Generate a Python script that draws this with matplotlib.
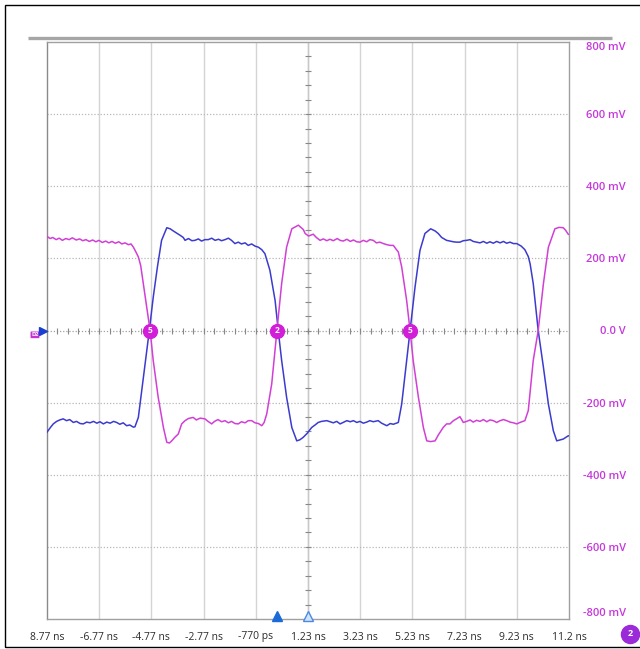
import numpy as np
import matplotlib.pyplot as plt
from matplotlib.patches import Rectangle
from matplotlib.lines import Line2D
from matplotlib.transforms import blended_transform_factory

plt.rcParams['font.family'] = ['Open Sans', 'DejaVu Sans']

# channel 2 (magenta) trace, time in ns, level in mV
t_ch2 = [-8.77, -8.65, -8.55, -8.42, -8.30, -8.18, -8.05, -7.92, -7.80, -7.65,
         -7.52, -7.40, -7.28, -7.15, -7.02, -6.90, -6.78, -6.65, -6.52, -6.40,
         -6.28, -6.15, -6.02, -5.90, -5.78, -5.65, -5.55, -5.46, -5.38, -5.27,
         -5.18, -5.08, -4.93, -4.82, -4.70, -4.51, -4.31, -4.18, -4.08, -3.99,
         -3.87, -3.74, -3.61, -3.48, -3.35, -3.17, -3.05, -2.90, -2.72, -2.60,
         -2.46, -2.35, -2.22, -2.08, -1.95, -1.82, -1.70, -1.57, -1.44, -1.32,
         -1.18, -1.06, -0.93, -0.80, -0.67, -0.54, -0.45, -0.35, -0.16, 0.04,
         0.22, 0.41, 0.61, 0.86, 1.05, 1.12, 1.25, 1.43, 1.55, 1.69,
         1.82, 1.95, 2.07, 2.20, 2.35, 2.46, 2.58, 2.72, 2.85, 2.97,
         3.10, 3.22, 3.35, 3.48, 3.60, 3.73, 3.85, 3.98, 4.12, 4.25,
         4.38, 4.50, 4.60, 4.69, 4.82, 5.01, 5.14, 5.26, 5.46, 5.65,
         5.78, 5.93, 6.10, 6.22, 6.41, 6.54, 6.67, 6.80, 6.92, 7.05,
         7.18, 7.31, 7.44, 7.56, 7.69, 7.82, 7.95, 8.08, 8.20, 8.33,
         8.46, 8.59, 8.72, 8.84, 8.97, 9.10, 9.23, 9.35, 9.54, 9.67,
         9.86, 10.05, 10.25, 10.44, 10.69, 10.85, 11.01, 11.10, 11.20, 11.23]
v_ch2 = [261, 255, 258, 252, 256, 250, 255, 252, 257, 251,
         254, 249, 252, 247, 251, 246, 250, 244, 248, 243,
         247, 242, 246, 240, 243, 238, 240, 231, 220, 204,
         180, 130, 56, 0, -83, -185, -269, -310, -312, -306,
         -296, -287, -259, -250, -244, -241, -248, -243, -245, -252,
         -259, -252, -247, -253, -250, -256, -252, -258, -259, -253,
         -256, -250, -250, -256, -258, -264, -255, -231, -148, 0,
         130, 231, 282, 292, 280, 269, 262, 267, 258, 250,
         254, 249, 253, 249, 255, 250, 248, 253, 247, 251,
         246, 245, 250, 246, 252, 250, 243, 245, 241, 238,
         236, 236, 226, 218, 176, 83, 0, -83, -185, -269,
         -306, -308, -306, -290, -269, -259, -259, -250, -245, -239,
         -255, -252, -248, -254, -249, -252, -247, -253, -248, -250,
         -255, -250, -247, -250, -254, -256, -259, -255, -250, -222,
         -83, 0, 130, 231, 282, 286, 285, 278, 267, 266]

# channel 1 (blue) trace
t_ch1 = [-8.77, -8.65, -8.53, -8.40, -8.28, -8.15, -8.02, -7.90, -7.76, -7.64,
         -7.50, -7.38, -7.25, -7.12, -6.99, -6.86, -6.74, -6.61, -6.48, -6.35,
         -6.22, -6.10, -5.98, -5.85, -5.72, -5.60, -5.46, -5.40, -5.27, -5.14,
         -4.98, -4.85, -4.70, -4.54, -4.38, -4.18, -4.05, -3.93, -3.80, -3.67,
         -3.55, -3.48, -3.35, -3.22, -3.10, -2.97, -2.85, -2.72, -2.59, -2.46,
         -2.33, -2.20, -2.08, -1.95, -1.82, -1.70, -1.57, -1.44, -1.32, -1.18,
         -1.06, -0.93, -0.80, -0.67, -0.54, -0.42, -0.23, -0.03, 0.09, 0.22,
         0.41, 0.61, 0.80, 0.92, 1.05, 1.20, 1.37, 1.50, 1.62, 1.75,
         1.95, 2.07, 2.20, 2.33, 2.46, 2.58, 2.72, 2.85, 2.97, 3.10,
         3.22, 3.35, 3.48, 3.60, 3.73, 3.92, 4.05, 4.25, 4.38, 4.50,
         4.69, 4.82, 5.01, 5.14, 5.33, 5.52, 5.71, 5.93, 6.10, 6.22,
         6.35, 6.54, 6.67, 6.80, 6.92, 7.05, 7.18, 7.31, 7.44, 7.56,
         7.69, 7.82, 7.95, 8.08, 8.20, 8.33, 8.46, 8.59, 8.72, 8.84,
         8.97, 9.10, 9.23, 9.40, 9.54, 9.67, 9.74, 9.86, 10.05, 10.25,
         10.44, 10.63, 10.76, 11.01, 11.20, 11.23]
v_ch1 = [-282, -270, -259, -252, -248, -245, -250, -247, -255, -252,
         -258, -259, -254, -256, -252, -257, -253, -259, -254, -257,
         -252, -255, -260, -256, -264, -262, -268, -267, -241, -167,
         -74, 0, 92, 176, 250, 285, 282, 276, 270, 264,
         258, 250, 255, 249, 250, 254, 248, 252, 252, 256,
         250, 253, 249, 252, 256, 250, 241, 245, 240, 243,
         236, 240, 234, 231, 224, 213, 167, 83, 0, -83,
         -185, -269, -306, -303, -296, -285, -269, -262, -255, -252,
         -250, -253, -256, -252, -259, -255, -250, -253, -250, -255,
         -252, -257, -254, -250, -253, -250, -257, -264, -258, -260,
         -255, -204, -83, 0, 120, 222, 269, 282, 276, 269,
         258, 250, 248, 246, 245, 245, 249, 250, 252, 247,
         245, 243, 247, 242, 246, 242, 247, 243, 247, 242,
         245, 241, 241, 234, 224, 205, 185, 130, 0, -102,
         -204, -278, -306, -301, -292, -292]

t_ticks = [-8.77, -6.77, -4.77, -2.77, -0.77, 1.23, 3.23, 5.23, 7.23, 9.23, 11.23]
t_labels = ['8.77 ns', '-6.77 ns', '-4.77 ns', '-2.77 ns', '-770 ps', '1.23 ns',
            '3.23 ns', '5.23 ns', '7.23 ns', '9.23 ns', '11.2 ns']
v_ticks = [800, 600, 400, 200, 0, -200, -400, -600, -800]
v_labels = ['800 mV', '600 mV', '400 mV', '200 mV', '0.0 V', '-200 mV',
            '-400 mV', '-600 mV', '-800 mV']

# crossing markers on the zero line
mark_t = [-4.84, 0.04, 5.12]
mark_txt = ['5', '2', '5']

magenta = '#d23fd6'
blue = '#3b3bcf'
W, H = 640, 649

fig = plt.figure(figsize=(W / 100, H / 100), dpi=100)
fig.patch.set_facecolor('white')
fig.add_artist(Rectangle((5 / W, 1 - 647 / H), 640 / W, 642 / H, fill=False,
                         edgecolor='black', lw=1.0))
fig.add_artist(Line2D([28 / W, 612 / W], [1 - 37.5 / H] * 2, lw=2.4,
                      color='#a6a6a6', solid_capstyle='butt'))

ax = fig.add_axes([47 / W, 1 - 619 / H, 522 / W, 577 / H])
ax.set_xlim(t_ticks[0], t_ticks[-1])
ax.set_ylim(-800, 800)

# graticule
for t in t_ticks[1:-1]:
    ax.axvline(t, color='#d4d4d4', lw=1.0, zorder=0)
for v in v_ticks[1:-1]:
    if v != 0:
        ax.axhline(v, color='#b8b8b8', lw=0.9, ls=(0, (1, 1.5)), zorder=0)
ax.axhline(0, color='#a0a0a0', lw=0.9, ls=(0, (1, 1.5)), zorder=0)
ax.axvline(1.23, color='#c8c8c8', lw=1.0, zorder=0)
minor_t = np.arange(t_ticks[0] + 0.4, t_ticks[-1], 0.4)
ax.plot(minor_t, np.zeros_like(minor_t), ls='none', marker='|', ms=4,
        mew=0.8, color='#888888', zorder=1)
minor_v = np.arange(-760, 800, 40)
ax.plot(np.full_like(minor_v, 1.23, dtype=float), minor_v, ls='none',
        marker='_', ms=4, mew=0.8, color='#888888', zorder=1)

ax.plot(t_ch1, v_ch1, color=blue, lw=1.1, zorder=3)
ax.plot(t_ch2, v_ch2, color=magenta, lw=1.1, zorder=3)

for t, s in zip(mark_t, mark_txt):
    ax.plot(t, 0, 'o', ms=10, color='#d21ed8', zorder=4)
    ax.text(t, 0, s, color='white', fontsize=6, ha='center', va='center',
            fontweight='bold', zorder=5)

for sp in ax.spines.values():
    sp.set_color('#a0a0a0')
    sp.set_linewidth(1.0)
ax.spines['left'].set_color('#8a8a8a')

ax.set_xticks(t_ticks)
ax.set_xticklabels(t_labels, fontsize=7.5, color='#2a2a2a')
ax.tick_params(axis='x', length=0, pad=9)

ax.yaxis.tick_right()
ax.set_yticks(v_ticks)
ax.set_yticklabels(v_labels, fontsize=8, color='#c638dc', fontweight='semibold')
ax.tick_params(axis='y', length=0, pad=41)
for lab in ax.get_yticklabels():
    lab.set_horizontalalignment('right')
ax.get_yticklabels()[0].set_verticalalignment('top')
ax.get_yticklabels()[-1].set_verticalalignment('bottom')

# channel offset / trigger indicators
tr_left = blended_transform_factory(ax.transAxes, ax.transData)
ax.plot(-0.007, 0, marker='>', ms=6, color='#1a3fd0', transform=tr_left,
        clip_on=False, zorder=6)
ax.text(-0.023, -12, 'D2', fontsize=4, color='white', ha='center', va='center',
        transform=tr_left, clip_on=False, fontweight='bold',
        bbox=dict(boxstyle='round,pad=0.15', fc='#c832d4', ec='none'))
tr_bot = blended_transform_factory(ax.transData, ax.transAxes)
ax.plot(0.04, 0.005, marker='^', ms=7, color='#1a6ad8', transform=tr_bot,
        clip_on=False, zorder=6)
ax.plot(1.23, 0.005, marker='^', ms=7, mfc='#cfe4fb', mec='#4a8ae0', mew=1,
        transform=tr_bot, clip_on=False, zorder=6)

fig.add_artist(Line2D([630 / W], [1 - 634 / H], marker='o', ms=13,
                      color='#9b2bd8', ls='none'))
fig.text(630 / W, 1 - 634 / H, '2', color='white', fontsize=6.5,
         ha='center', va='center', fontweight='bold')

fig.savefig('out.png', dpi=100)
